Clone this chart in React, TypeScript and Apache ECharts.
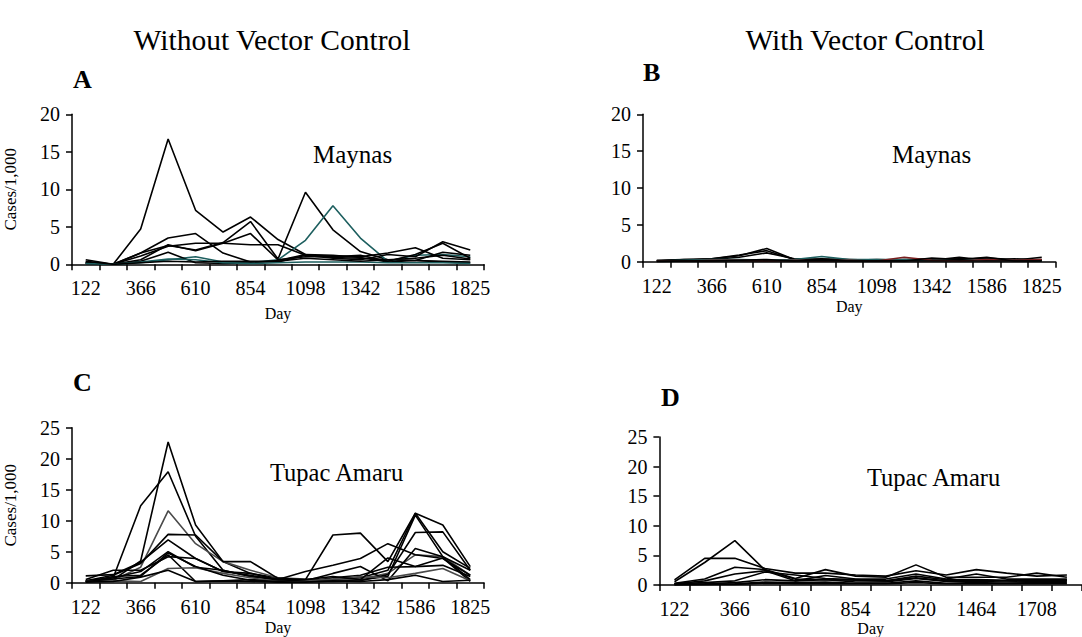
import React, { useEffect, useRef } from "react";
import * as echarts from "echarts";

const DAYS_ABC = ["122", "244", "366", "488", "610", "732", "854", "976", "1098", "1220", "1342", "1464", "1586", "1708", "1825"];
const DAYS_D = ["122", "244", "366", "488", "610", "732", "854", "976", "1220", "1342", "1464", "1586", "1708", "1825"];

// Panel A: Maynas, without vector control
const A1 = [0.6, 0, 4.7, 16.7, 7.2, 4.3, 6.3, 3.3, 1.3, 0.9, 0.8, 0.6, 0.5, 0.4, 0.3];
const A2 = [0.1, 0, 1.5, 2.5, 1.9, 2.9, 5.7, 0.7, 9.6, 4.6, 1.7, 0.6, 0.5, 0.3, 0.2];
const A3 = [0.2, 0, 0.2, 0.6, 1.0, 0.3, 0.2, 0.6, 3.2, 7.8, 3.5, 0.4, 1.2, 1.3, 1.0];
const A4 = [0.3, 0, 1.5, 3.5, 4.1, 1.5, 0.3, 0.3, 1.2, 1.1, 1.0, 1.5, 2.2, 0.8, 0.6];
const A5 = [0.2, 0, 1.1, 2.4, 2.8, 2.8, 2.6, 2.6, 1.2, 0.8, 0.6, 1.3, 1.0, 3.0, 1.9];
const A6 = [0.1, 0, 0.6, 2.6, 1.8, 2.8, 4.1, 0.6, 1.0, 1.0, 1.2, 0.4, 1.3, 2.8, 0.8];
const A7 = [0.2, 0, 0.4, 1.6, 0.2, 0.1, 0.2, 0.5, 1.3, 1.2, 0.9, 0.3, 0.5, 1.6, 1.2];
const A8 = [0.1, 0, 0.3, 0.7, 0.6, 0.2, 0.1, 0.2, 0.3, 0.3, 0.3, 0.2, 0.2, 0.2, 0.1];
const A9 = [0.4, 0, 0.2, 0.4, 0.3, 0.4, 0.4, 0.4, 0.8, 0.6, 0.4, 0.6, 0.8, 1.2, 0.7];

// Panel B: Maynas, with vector control
const B1 = [0.1, 0.2, 0.4, 0.8, 1.8, 0.3, 0.3, 0.2, 0.2, 0.2, 0.3, 0.4, 0.3, 0.2, 0.6];
const B2 = [0.1, 0.3, 0.4, 0.9, 1.5, 0.3, 0.4, 0.3, 0.2, 0.3, 0.4, 0.3, 0.5, 0.3, 0.3];
const B3 = [0.2, 0.3, 0.3, 0.6, 1.2, 0.4, 0.2, 0.2, 0.3, 0.2, 0.2, 0.6, 0.2, 0.4, 0.2];
const B4 = [0.1, 0.2, 0.3, 0.3, 0.2, 0.3, 0.7, 0.3, 0.3, 0.3, 0.2, 0.2, 0.3, 0.2, 0.1];
const B5 = [0.1, 0.1, 0.2, 0.2, 0.1, 0.2, 0.1, 0.2, 0.1, 0.6, 0.2, 0.1, 0.3, 0.2, 0.3];
const B6 = [0.1, 0.1, 0.1, 0.2, 0.3, 0.1, 0.2, 0.1, 0.1, 0.1, 0.5, 0.3, 0.6, 0.1, 0.1];
const B7 = [0.0, 0.1, 0.1, 0.1, 0.1, 0.1, 0.1, 0.1, 0.1, 0.1, 0.1, 0.1, 0.1, 0.1, 0.1];

// Panel C: Tupac Amaru, without vector control
const C1 = [0.3, 0.8, 12.4, 17.9, 7.5, 2.0, 1.0, 0.5, 0.4, 0.3, 0.5, 1.0, 10.9, 4.2, 0.5];
const C2 = [0.2, 0.5, 3.5, 22.7, 9.3, 3.4, 1.5, 0.8, 0.3, 0.5, 0.8, 2.0, 11.2, 9.3, 2.6];
const C3 = [0.1, 0.4, 2.5, 11.6, 6.3, 3.4, 2.0, 0.8, 0.6, 0.4, 0.6, 1.5, 4.5, 4.2, 1.2];
const C4 = [0.3, 1.2, 3.1, 7.8, 7.7, 3.4, 3.4, 0.7, 0.5, 7.7, 8.0, 3.4, 11.2, 5.0, 2.3];
const C5 = [1.1, 1.3, 3.3, 6.9, 3.9, 1.8, 1.5, 0.5, 1.8, 2.8, 3.9, 6.3, 4.5, 3.9, 1.2];
const C6 = [0.2, 0.8, 1.8, 5.0, 2.5, 2.0, 1.0, 0.6, 0.3, 1.5, 2.6, 0.3, 5.5, 4.2, 2.0];
const C7 = [0.1, 1.0, 1.2, 4.5, 0.2, 0.3, 0.5, 0.3, 0.2, 0.2, 0.3, 1.3, 8.1, 8.2, 2.0];
const C8 = [0.5, 2.0, 2.0, 4.2, 3.9, 1.8, 1.2, 0.4, 0.2, 0.8, 1.2, 2.5, 2.6, 4.0, 0.2];
const C9 = [0.2, 0.3, 0.2, 2.3, 2.4, 1.5, 0.8, 0.2, 0.3, 0.6, 1.0, 0.8, 1.5, 2.3, 0.3];
const C10 = [0.1, 0.2, 0.9, 2.0, 0.2, 0.3, 0.2, 0.1, 0.1, 0.3, 0.2, 0.5, 1.2, 0.2, 0.4];
const C11 = [0.2, 0.6, 1.0, 4.8, 2.6, 1.2, 0.4, 0.2, 0.5, 1.0, 0.5, 4.0, 2.6, 2.8, 1.0];

// Panel D: Tupac Amaru, with vector control
const D1 = [0.55, 3.8, 7.5, 2.5, 1.0, 0.9, 0.8, 0.7, 1.2, 0.7, 0.8, 0.7, 0.6, 0.8];
const D2 = [0.85, 4.5, 4.5, 2.8, 2.0, 2.0, 1.7, 1.5, 2.4, 1.7, 2.6, 2.0, 1.5, 1.7];
const D3 = [0.3, 1.0, 3.0, 2.6, 1.1, 2.6, 1.5, 1.3, 3.4, 1.3, 1.3, 1.3, 2.0, 1.3];
const D4 = [0.2, 0.7, 1.85, 2.4, 0.7, 1.6, 1.0, 1.0, 1.85, 1.0, 1.85, 1.0, 1.0, 1.0];
const D5 = [0.2, 0.4, 0.7, 2.2, 1.7, 1.1, 0.9, 0.7, 1.5, 0.9, 0.9, 0.8, 0.7, 0.8];
const D6 = [0.1, 0.2, 0.4, 0.9, 0.7, 0.9, 0.5, 0.5, 1.1, 0.6, 0.6, 0.5, 0.5, 0.6];
const D7 = [0.1, 0.1, 0.2, 0.5, 0.4, 0.5, 0.3, 0.3, 0.7, 0.3, 0.4, 0.3, 0.4, 0.4];
const D8 = [0.0, 0.1, 0.1, 0.3, 0.2, 0.2, 0.2, 0.2, 0.4, 0.2, 0.2, 0.2, 0.2, 0.2];

const BLACK = "#000000";
const TEAL = "#1d5f5f";
const GRAY = "#4a4a4a";
const RED = "#7a1f1f";

const PANEL_SERIES = [
  [A1, A2, A3, A4, A5, A6, A7, A8, A9],
  [B1, B2, B3, B4, B5, B6, B7],
  [C1, C2, C3, C4, C5, C6, C7, C8, C9, C10, C11],
  [D1, D2, D3, D4, D5, D6, D7, D8],
];
const PANEL_COLORS = [
  [BLACK, BLACK, TEAL, BLACK, BLACK, BLACK, BLACK, TEAL, BLACK],
  [BLACK, BLACK, BLACK, TEAL, RED, BLACK, BLACK],
  [BLACK, BLACK, GRAY, BLACK, BLACK, BLACK, BLACK, BLACK, GRAY, BLACK, BLACK],
  [BLACK, BLACK, BLACK, BLACK, BLACK, BLACK, BLACK, BLACK],
];
const PANEL_DAYS = [DAYS_ABC, DAYS_ABC, DAYS_ABC, DAYS_D];
const PANEL_MAX = [20, 20, 25, 25];
const PANEL_YNAME = ["Cases/1,000", "", "Cases/1,000", ""];
const PANEL_DAYGAP = [41, 37, 37, 35];

const SERIF = "Liberation Serif";

export default function App() {
  const ref = useRef<HTMLDivElement>(null);
  useEffect(() => {
    if (!ref.current) return;
    const chart = echarts.init(ref.current, undefined, { renderer: "svg" });
    const grids = [
      { left: 72, top: 114.3, width: 412, height: 150 },
      { left: 643, top: 114.3, width: 412.5, height: 147.4 },
      { left: 72, top: 427.7, width: 412, height: 155 },
      { left: 659.4, top: 437, width: 428, height: 149 },
    ];
    const axisLine = { show: true, lineStyle: { color: BLACK, width: 1.5 } };
    const xAxis = grids.map((_, i) => ({
      type: "category",
      gridIndex: i,
      data: PANEL_DAYS[i],
      boundaryGap: true,
      axisLine,
      axisTick: { show: true, interval: 0, length: 6, lineStyle: { color: BLACK, width: 1.5 } },
      axisLabel: { interval: 1, margin: 14, color: BLACK, fontFamily: SERIF, fontSize: 20 },
      splitLine: { show: false },
      name: "Day",
      nameLocation: "middle",
      nameGap: PANEL_DAYGAP[i],
      nameTextStyle: { color: BLACK, fontFamily: SERIF, fontSize: 16 },
    }));
    const yAxis = grids.map((_, i) => ({
      type: "value",
      gridIndex: i,
      min: 0,
      max: PANEL_MAX[i],
      interval: 5,
      axisLine,
      axisTick: { show: true, length: 6, lineStyle: { color: BLACK, width: 1.5 } },
      axisLabel: { margin: 12, color: BLACK, fontFamily: SERIF, fontSize: 20 },
      splitLine: { show: false },
      name: PANEL_YNAME[i],
      nameLocation: "middle",
      nameRotate: 90,
      nameGap: 53,
      nameTextStyle: { color: BLACK, fontFamily: SERIF, fontSize: 17 },
    }));
    const series: any[] = [];
    PANEL_SERIES.forEach((list, p) => {
      list.forEach((vals, k) => {
        series.push({
          type: "line",
          xAxisIndex: p,
          yAxisIndex: p,
          data: vals,
          symbol: "none",
          lineStyle: { color: PANEL_COLORS[p][k], width: 1.6 },
          itemStyle: { color: PANEL_COLORS[p][k] },
          silent: true,
        });
      });
    });
    const txt = (text: string, x: number, y: number, size: number, align: string, bold = false) => ({
      type: "text",
      x,
      y,
      silent: true,
      style: {
        text,
        fill: BLACK,
        font: `${bold ? "bold " : ""}${size}px ${SERIF}`,
        textAlign: align,
        textVerticalAlign: "middle",
        align,
        verticalAlign: "middle",
      },
    });
    chart.setOption({
      animation: false,
      backgroundColor: "#ffffff",
      textStyle: { fontFamily: SERIF, color: BLACK },
      grid: grids,
      xAxis,
      yAxis,
      series,
      graphic: [
        txt("Without Vector Control", 272, 40, 29.5, "center"),
        txt("With Vector Control", 865, 40, 29.5, "center"),
        txt("A", 73, 79, 26, "left", true),
        txt("B", 643, 72.5, 26, "left", true),
        txt("C", 73, 382, 26, "left", true),
        txt("D", 661, 397.5, 26, "left", true),
        txt("Maynas", 313, 154, 25, "left"),
        txt("Maynas", 892, 154, 25, "left"),
        txt("Tupac Amaru", 270, 472, 24.5, "left"),
        txt("Tupac Amaru", 867, 477, 24.5, "left"),
      ],
    });
    return () => chart.dispose();
  }, []);
  return (
    <div
      ref={ref}
      style={{ position: "absolute", left: 0, top: 0, width: 1082, height: 637, background: "#fff" }}
    />
  );
}
